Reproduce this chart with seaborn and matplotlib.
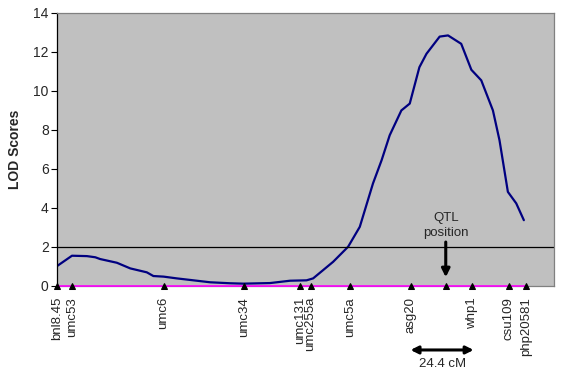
import numpy as np
import pandas as pd
import matplotlib
matplotlib.use('Agg')
import matplotlib.pyplot as plt
import matplotlib.transforms as mtransforms
import seaborn as sns

# LOD profile along the chromosome (position in cM, LOD score)
pos_cm = [0, 5.9, 11.8, 15.1, 17.0, 23.6, 28.9, 35.4, 38.0, 42.0, 47.2, 52.5,
          60.4, 68.2, 73.5, 84.0, 91.9, 98.4, 101.0, 105.0, 108.9, 114.8,
          119.4, 124.6, 128.0, 131.2, 135.8, 139.1, 142.9, 145.7, 150.9,
          154.2, 159.4, 163.4, 167.3, 171.9, 174.5, 177.8, 181.1, 184.1]
lod = [1.02, 1.55, 1.53, 1.47, 1.38, 1.19, 0.90, 0.70, 0.51, 0.48, 0.39, 0.31,
       0.19, 0.14, 0.12, 0.15, 0.27, 0.29, 0.39, 0.82, 1.24, 2.01,
       3.03, 5.25, 6.44, 7.72, 8.99, 9.34, 11.2, 11.89, 12.77,
       12.83, 12.4, 11.07, 10.53, 8.99, 7.46, 4.82, 4.23, 3.37]

# markers on the linkage map
marker_names = ['bnl8.45', 'umc53', 'umc6', 'umc34', 'umc131', 'umc255a',
                'umc5a', 'asg20', 'whp1', 'csu109', 'php20581']
marker_pos = [0, 5.9, 42.0, 73.6, 95.8, 100.0, 115.7, 139.4, 163.8, 178.2, 185.0]

qtl_pos = 153.3
threshold = 2
interval_cm = 24.4

sns.set_style('white', {'axes.facecolor': '#C0C0C0'})
plt.rcParams['font.family'] = ['Liberation Sans', 'DejaVu Sans']

fig = plt.figure(figsize=(5.68, 3.72), dpi=100)
ax = fig.add_axes([0.1004, 0.2312, 0.875, 0.735])

profile = pd.DataFrame({'pos': pos_cm, 'lod': lod})
sns.lineplot(data=profile, x='pos', y='lod', color='#000080', linewidth=1.6, ax=ax)

ax.axhline(threshold, color='black', linewidth=0.9)

# map line with marker triangles
all_markers = marker_pos + [qtl_pos]
map_df = pd.DataFrame({'pos': sorted(all_markers), 'y': [0] * len(all_markers)})
sns.lineplot(data=map_df, x='pos', y='y', color='#FF00FF', linewidth=1.2,
             marker='^', markersize=4.5, markerfacecolor='black',
             markeredgecolor='black', clip_on=False, zorder=5, ax=ax)

ax.set_xlim(0, 196)
ax.set_ylim(0, 14)
ax.set_yticks(range(0, 15, 2))
ax.set_xticks(marker_pos)
ax.set_xticklabels(marker_names, rotation=90, fontsize=9.5)
ax.tick_params(axis='x', length=0, pad=8)
ax.tick_params(axis='y', length=4, width=0.8, direction='out', left=True,
               labelsize=10, pad=2, color='black')
ax.set_xlabel('')
ax.set_ylabel('LOD Scores', fontsize=10, fontweight='bold', labelpad=8)

for side in ['top', 'right', 'bottom']:
    ax.spines[side].set_color('#808080')
    ax.spines[side].set_linewidth(0.9)
ax.spines['left'].set_color('black')
ax.spines['left'].set_linewidth(0.9)

# QTL annotation
ax.text(qtl_pos, 2.4, 'QTL\nposition', ha='center', va='bottom', fontsize=9.5,
        linespacing=1.4)
ax.annotate('', xy=(qtl_pos, 0.45), xytext=(qtl_pos, 2.25),
            arrowprops=dict(arrowstyle='-|>', color='black', lw=2.2,
                            mutation_scale=12, shrinkA=0, shrinkB=0))

# confidence interval arrow below the axis
trans = mtransforms.blended_transform_factory(ax.transData, ax.transAxes)
ci_start = marker_pos[marker_names.index('asg20')]
ci_end = ci_start + interval_cm
ax.annotate('', xy=(ci_start, -0.234), xytext=(ci_end + 0.5, -0.234),
            xycoords=trans, textcoords=trans, annotation_clip=False,
            arrowprops=dict(arrowstyle='<|-|>', color='black', lw=2.2,
                            mutation_scale=11, shrinkA=0, shrinkB=0))
ax.text((ci_start + ci_end) / 2 + 0.5, -0.262, f'{interval_cm} cM', transform=trans,
        ha='center', va='top', fontsize=9.5)

fig.savefig('out.png', dpi=100)
